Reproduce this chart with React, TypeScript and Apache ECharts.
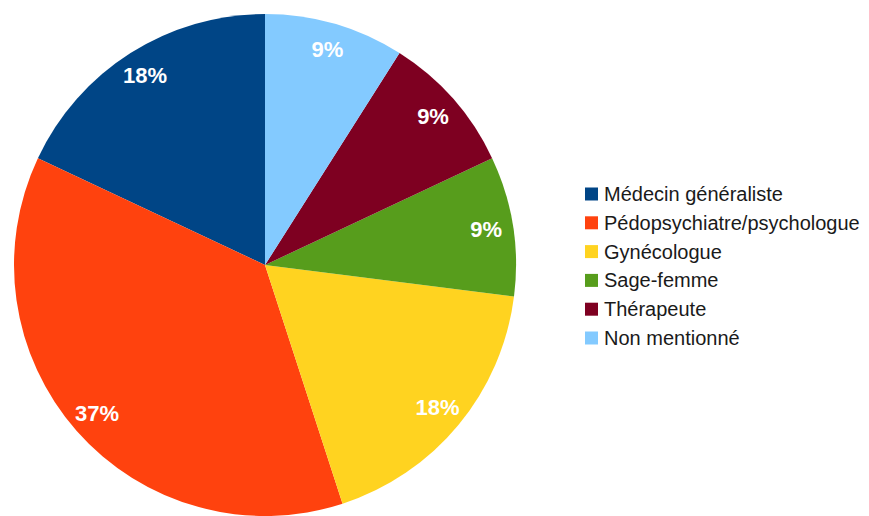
import React, { useEffect, useRef } from "react";
import * as echarts from "echarts";

const categories = [
  "Médecin généraliste",
  "Pédopsychiatre/psychologue",
  "Gynécologue",
  "Sage-femme",
  "Thérapeute",
  "Non mentionné",
];
const values = [18, 37, 18, 9, 9, 9];
const colors = ["#004586", "#ff420e", "#ffd320", "#579d1c", "#7e0021", "#83caff"];

export default function App() {
  const ref = useRef<HTMLDivElement>(null);
  useEffect(() => {
    if (!ref.current) return;
    const chart = echarts.init(ref.current, undefined, { renderer: "svg" });
    const font = "'Liberation Sans', Arial, sans-serif";
    chart.setOption({
      animation: false,
      backgroundColor: "#ffffff",
      legend: {
        orient: "vertical",
        left: 585,
        top: 184,
        padding: 0,
        itemWidth: 13,
        itemHeight: 13,
        itemGap: 8.8,
        icon: "rect",
        textStyle: { fontFamily: font, fontSize: 20, color: "#1a1a1a", lineHeight: 20, padding: [0, 0, 0, 1] },
        data: categories.map((n, i) => ({ name: n, itemStyle: { color: colors[i] } })),
      },
      series: [
        {
          type: "pie",
          center: [265, 265],
          radius: 251,
          startAngle: 90,
          clockwise: false,
          label: { show: false },
          labelLine: { show: false },
          emphasis: { disabled: true },
          silent: true,
          data: categories.map((n, i) => ({ name: n, value: values[i], itemStyle: { color: colors[i] } })),
        },
        {
          type: "pie",
          center: [265, 265],
          radius: [191, 251],
          startAngle: 90,
          clockwise: false,
          silent: true,
          emphasis: { disabled: true },
          itemStyle: { color: "rgba(0,0,0,0)" },
          label: {
            show: true,
            position: "inside",
            formatter: "{c}%",
            color: "#ffffff",
            fontFamily: font,
            fontWeight: "bold",
            fontSize: 22,
          },
          labelLine: { show: false },
          data: categories.map((n, i) => ({ name: n, value: values[i] })),
        },
      ],
    });
    return () => chart.dispose();
  }, []);
  return (
    <div
      ref={ref}
      style={{ position: "fixed", left: 0, top: 0, width: 869, height: 516 }}
    />
  );
}
